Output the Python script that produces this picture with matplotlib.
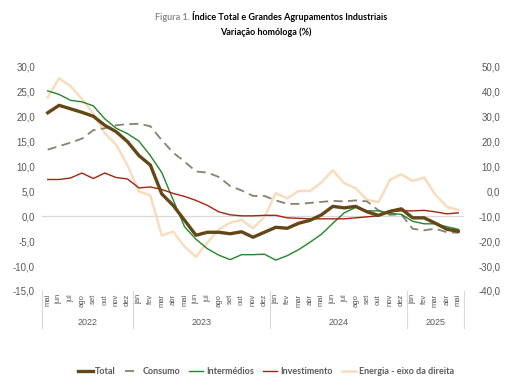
# Figura 1 - Índice Total e Grandes Agrupamentos Industriais
import numpy as np
from matplotlib import pyplot as plt
from matplotlib import transforms

# Data
months = ['mai', 'jun', 'jul', 'ago', 'set', 'out', 'nov', 'dez',
          'jan', 'fev', 'mar', 'abr', 'mai', 'jun', 'jul', 'ago', 'set', 'out', 'nov', 'dez',
          'jan', 'fev', 'mar', 'abr', 'mai', 'jun', 'jul', 'ago', 'set', 'out', 'nov', 'dez',
          'jan', 'fev', 'mar', 'abr', 'mai']
years = ['2022', '2023', '2024', '2025']
year_counts = [8, 12, 12, 5]

total = [20.8, 22.3, 21.6, 20.9, 20.1, 18.3, 17.0, 15.0,
         12.2, 10.3, 4.5, 2.2, -0.8, -3.8, -3.2, -3.2, -3.5, -3.1, -4.2, -3.2,
         -2.2, -2.4, -1.4, -0.8, 0.3, 2.0, 1.7, 2.0, 0.9, 0.2, 1.0, 1.5,
         -0.3, -0.3, -1.4, -2.6, -3.0]
consumo = [13.4, 14.1, 14.8, 15.6, 17.3, 17.7, 18.3, 18.5,
           18.6, 18.1, 15.3, 12.8, 11.0, 9.0, 8.8, 7.9, 6.1, 5.2, 4.1, 4.1,
           3.2, 2.5, 2.5, 2.7, 2.9, 3.1, 3.0, 3.2, 3.0, 1.2, 0.3, 0.4,
           -2.5, -2.8, -2.5, -3.2, -3.3]
intermedios = [25.2, 24.5, 23.3, 23.0, 22.2, 19.6, 17.7, 16.6,
               15.1, 12.2, 8.8, 3.3, -2.1, -4.6, -6.5, -7.8, -8.7, -7.7, -7.7, -7.6,
               -8.8, -7.9, -6.7, -5.2, -3.6, -1.4, 0.7, 1.8, 1.1, 1.1, 0.6, 0.4,
               -1.0, -1.5, -1.5, -2.1, -2.6]
investimento = [7.4, 7.4, 7.7, 8.7, 7.6, 8.7, 7.8, 7.5,
                5.7, 5.9, 5.4, 4.6, 4.0, 3.2, 2.2, 0.9, 0.3, 0.1, 0.1, 0.2,
                0.2, -0.3, -0.4, -0.5, -0.5, -0.5, -0.5, -0.3, -0.1, 0.1, 0.9, 1.1,
                1.1, 1.2, 0.9, 0.5, 0.7]
energia = [37.8, 45.5, 42.3, 37.2, 31.3, 23.4, 18.8, 10.5,
           0.0, -1.6, -17.7, -16.1, -22.2, -26.3, -20.5, -15.3, -12.6, -11.4, -14.8, -10.3,
           -0.7, -2.8, 0.2, 0.2, 3.6, 8.5, 3.3, 1.3, -3.4, -4.3, 4.6, 6.9,
           4.2, 5.6, -1.4, -6.1, -7.4]

x = np.arange(len(months))
grey = '#595959'
tick_font = 'Liberation Sans'
text_font = 'Lato'

# Figure
fig = plt.figure(figsize=(5.32, 3.91), dpi=100)
ax = fig.add_axes([42 / 532, 1 - 291 / 391, 422 / 532, 224 / 391])
ax2 = ax.twinx()

ax.axhline(0, color='#d9d9d9', lw=0.9, zorder=1)
ax2.plot(x, energia, color='#f7ddbd', lw=1.8, label='Energia - eixo da direita')
l1, = ax.plot(x, total, color='#634716', lw=2.4, label='Total', zorder=4)
l2, = ax.plot(x, consumo, color='#8a8070', lw=1.3, dashes=(5, 3), label='Consumo', zorder=3)
l3, = ax.plot(x, intermedios, color='#23862a', lw=1.0, label='Intermédios', zorder=3)
l4, = ax.plot(x, investimento, color='#a3240f', lw=1.0, label='Investimento', zorder=3)
l5 = ax2.get_lines()[0]

ax.set_zorder(ax2.get_zorder() + 1)
ax.patch.set_visible(False)

ax.set_xlim(-0.5, len(months) - 0.5)
ax.set_ylim(-15, 30)
ax.set_yticks(np.arange(-15, 31, 5))
ax.set_yticklabels([f'{v:.1f}'.replace('.', ',') for v in np.arange(-15, 31, 5)])
ax2.set_ylim(-40, 50)
ax2.set_yticks(np.arange(-40, 51, 10))
ax2.set_yticklabels([f'{v:.1f}'.replace('.', ',') for v in np.arange(-40, 51, 10)])

for a in (ax, ax2):
    for s in a.spines.values():
        s.set_visible(False)

ax.tick_params(axis='y', length=0, pad=5, labelsize=7, labelcolor=grey)
ax2.tick_params(axis='y', length=0, pad=26, labelsize=7, labelcolor=grey)
for lab in ax2.get_yticklabels():
    lab.set_horizontalalignment('right')
for lab in ax.get_yticklabels() + ax2.get_yticklabels():
    lab.set_fontfamily(tick_font)

ax.set_xticks(x)
ax.set_xticklabels(months, rotation=90, fontsize=5.5, color=grey, fontfamily=tick_font)
ax.tick_params(axis='x', length=0, pad=2)

# Year labels and separators
trans = transforms.blended_transform_factory(ax.transData, ax.transAxes)
bounds = np.concatenate([[0], np.cumsum(year_counts)]) - 0.5
for b in bounds:
    ax.plot([b, b], [0, -0.165], transform=trans, color='#d9d9d9', lw=0.8, clip_on=False)
for i, yr in enumerate(years):
    ax.text((bounds[i] + bounds[i + 1]) / 2, -0.14, yr, transform=trans, ha='center', va='center',
            fontsize=6.5, color=grey, fontfamily=tick_font)

# Title
t1 = fig.text(0.545, 1 - 17 / 391, 'Índice Total e Grandes Agrupamentos Industriais', ha='center',
              va='center', fontsize=6.5, fontweight='bold', fontfamily=text_font)
fig.canvas.draw()
bb = t1.get_window_extent()
fig.text(bb.x0 / fig.bbox.width, 1 - 17 / 391, 'Figura 1. ', ha='right', va='center', fontsize=6.5,
         color='#8c8c8c', fontfamily=text_font, fontweight='bold')
fig.text(0.5, 1 - 32 / 391, 'Variação homóloga (%)', ha='center', va='center', fontsize=6.5,
         fontweight='bold', fontfamily=text_font)

# Legend
leg = fig.legend([l1, l2, l3, l4, l5], [l.get_label() for l in (l1, l2, l3, l4, l5)],
                 loc='center', bbox_to_anchor=(0.5, 1 - 372 / 391), ncol=5, frameon=False,
                 handlelength=1.6, handletextpad=0.3, columnspacing=1.0,
                 prop={'family': text_font, 'weight': 'bold', 'size': 6.5})
for t in leg.get_texts():
    t.set_color(grey)

fig.savefig('out.png', dpi=100)
